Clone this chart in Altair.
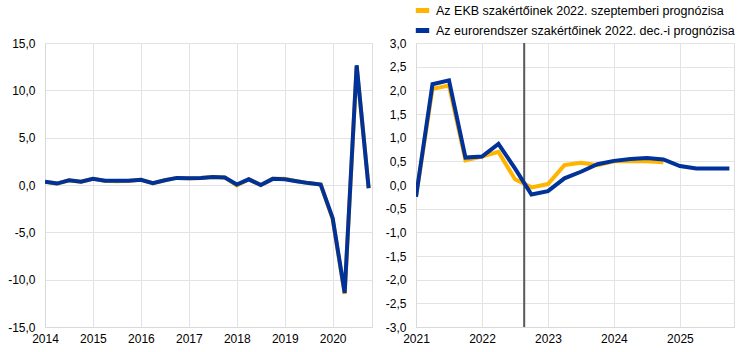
import altair as alt
import pandas as pd

# Left panel: quarterly 2014Q1 - 2020Q4
left_t = [2014 + i * 0.25 for i in range(28)]
left_sep = [0.35, 0.15, 0.5, 0.35, 0.65, 0.45, 0.4, 0.45, 0.55, 0.2, 0.5, 0.75,
            0.7, 0.75, 0.85, 0.8, -0.05, 0.6, 0.0, 0.65, 0.65, 0.4, 0.2, 0.05,
            -3.6, -11.5, 12.5, -0.3]
left_dec = [0.35, 0.15, 0.5, 0.35, 0.65, 0.45, 0.45, 0.45, 0.55, 0.2, 0.5, 0.75,
            0.7, 0.75, 0.85, 0.8, 0.05, 0.6, 0.0, 0.65, 0.6, 0.4, 0.2, 0.05,
            -3.5, -11.4, 12.65, -0.35]

# Right panel: quarterly 2021Q1 - 2025Q4
right_t_dec = [2021 + i * 0.25 for i in range(20)]
right_dec = [-0.25, 2.13, 2.21, 0.58, 0.6, 0.87, 0.35, -0.2, -0.13, 0.14, 0.28, 0.44,
             0.51, 0.55, 0.57, 0.54, 0.4, 0.35, 0.35, 0.35]
right_t_sep = [2021 + i * 0.25 for i in range(16)]
right_sep = [-0.25, 2.03, 2.1, 0.52, 0.6, 0.7, 0.12, -0.05, 0.02, 0.42, 0.47, 0.42,
             0.5, 0.5, 0.5, 0.48]

series_names = ["Az EKB szakértőinek 2022. szeptemberi prognózisa",
                "Az eurorendszer szakértőinek 2022. dec.-i prognózisa"]
series_colors = ["#FFB400", "#003299"]
cutoff = [2022.64]

left_years = [2014, 2015, 2016, 2017, 2018, 2019, 2020]
right_years = [2021, 2022, 2023, 2024, 2025]
left_yticks = [-15, -10, -5, 0, 5, 10, 15]
right_yticks = [-3 + 0.5 * i for i in range(13)]

left_df = pd.concat([
    pd.DataFrame({"t": left_t, "v": left_sep, "s": series_names[0]}),
    pd.DataFrame({"t": left_t, "v": left_dec, "s": series_names[1]}),
])
right_df = pd.concat([
    pd.DataFrame({"t": right_t_sep, "v": right_sep, "s": series_names[0]}),
    pd.DataFrame({"t": right_t_dec, "v": right_dec, "s": series_names[1]}),
])

label_expr = "(datum.value < 0 ? '-' : '') + replace(format(abs(datum.value), '.1f'), '.', ',')"

FONT = "Liberation Sans"
color_scale = alt.Scale(domain=series_names, range=series_colors)


def panel(df, xdom, xticks, ydom, yticks, legend):
    xenc = alt.X("t:Q", scale=alt.Scale(domain=xdom, nice=False, zero=False),
                 axis=alt.Axis(values=xticks, format="d", title=None, ticks=False,
                               labelPadding=6, labelFontSize=12, labelColor="#000",
                               labelFont=FONT, domainColor="#d9d9d9", gridColor="#e3e3e3",
                               labelFlush=False))
    yenc = alt.Y("v:Q", scale=alt.Scale(domain=ydom, nice=False),
                 axis=alt.Axis(values=yticks, labelExpr=label_expr, title=None, ticks=False,
                               labelPadding=10, labelFontSize=12, labelColor="#000",
                               labelFont=FONT, domainColor="#d9d9d9", gridColor="#e3e3e3"))
    if legend:
        leg = alt.Legend(title=None, orient="none", legendX=-3, legendY=-42,
                         symbolType="stroke", symbolStrokeWidth=5, symbolSize=180,
                         labelFontSize=12.5, labelFont=FONT, labelColor="#000",
                         rowPadding=-1, labelOffset=4, padding=0, labelLimit=400)
    else:
        leg = None
    cenc = alt.Color("s:N", scale=color_scale, legend=leg)
    l1 = alt.Chart(df).transform_filter(alt.datum.s == series_names[0]).mark_line(
        strokeWidth=4, clip=True).encode(x=xenc, y=yenc, color=cenc)
    l2 = alt.Chart(df).transform_filter(alt.datum.s == series_names[1]).mark_line(
        strokeWidth=4, clip=True).encode(x=xenc, y=yenc, color=cenc)
    return [l1, l2]


left_layers = panel(left_df, [2014, 2020.82], left_years, [-15, 15], left_yticks, False)
right_layers = panel(right_df, [2021, 2025.82], right_years, [-3, 3], right_yticks, True)

rule = alt.Chart(pd.DataFrame({"c": cutoff})).mark_rule(color="#595959", strokeWidth=2).encode(
    x=alt.X("c:Q"))

left = alt.layer(*left_layers).properties(width=327, height=284)
right = alt.layer(right_layers[0], rule, right_layers[1]).properties(width=318, height=284)

chart = alt.hconcat(left, right, spacing=44, bounds="flush").resolve_scale(
    color="independent").properties(
    padding={"left": 7, "top": 0, "right": 5, "bottom": 5}
).configure_view(stroke=None).configure(background="white")

chart.save("out.html", embed_options={"renderer": "svg", "actions": False})
